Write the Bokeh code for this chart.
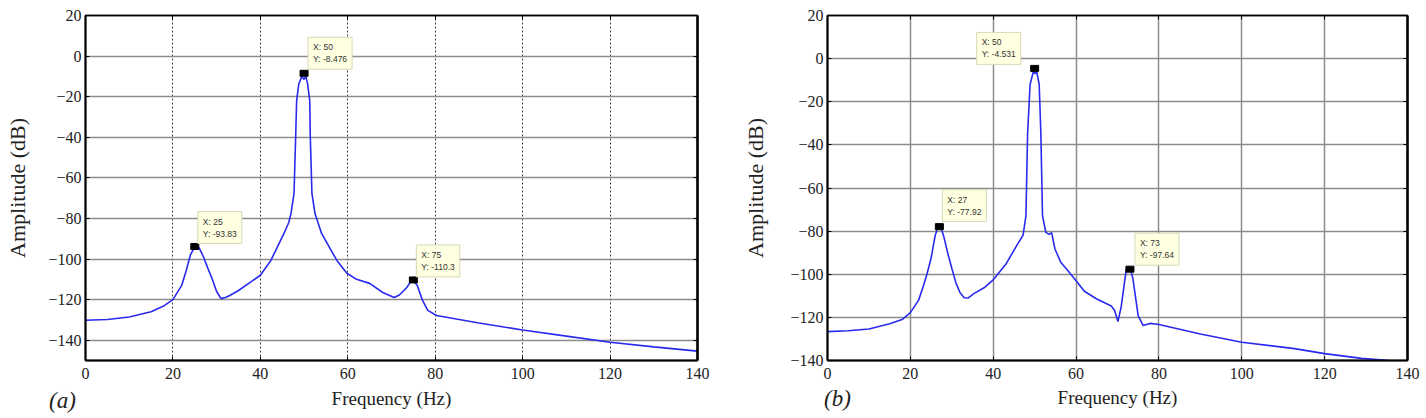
from bokeh.plotting import figure
from bokeh.models import Range1d, LinearAxis, Label, FixedTicker
from bokeh.layouts import row
from bokeh.embed import file_html
from bokeh.resources import INLINE

# ---------------- data (a) ----------------
freq_a = [0, 5, 10, 15, 18, 20, 22, 23, 24, 25, 26, 27, 28, 29, 30, 31, 32, 33, 35, 38, 40,
          42.4, 45.4, 46.5, 47.0, 47.7, 48.1, 48.3, 48.8, 49.5, 50.0, 50.4, 50.8, 51.3, 51.4,
          51.8, 52.5, 54.0, 57.5, 59.8, 62, 65, 68, 70.6, 71.8, 73.5, 74.3, 75, 75.9, 77.1,
          78.3, 80.3, 90, 100, 110, 120, 130, 140]
amp_a = [-130.2, -129.8, -128.6, -126, -123, -120, -113, -106, -98, -94, -94.5, -99, -104.6,
         -110, -116, -119.5, -119, -118, -115.5, -111, -108, -100.7, -87.4, -82, -77.6, -67.7,
         -38, -21.9, -13.6, -10, -11.5, -10, -13.6, -22, -38, -67.7, -77.6, -87.4, -100.7, -107,
         -110, -112, -116.5, -119, -117.7, -114, -111.4, -110.6, -113, -120.4, -125.3, -127.8,
         -131.5, -135, -138, -141, -143.3, -145.4]
tip_x_a = [25, 50, 75]
tip_y_a = [-93.83, -8.476, -110.3]

# ---------------- data (b) ----------------
freq_b = [0, 5, 10, 15, 18, 20, 22, 23, 24, 25, 26, 26.5, 27, 27.5, 28, 29, 30, 31, 32, 33, 34,
          35.3, 38, 40, 43, 45.7, 46.7, 47.2, 47.9, 48.3, 48.9, 49.7, 50.1, 50.5, 51.1, 51.5,
          51.9, 52.7, 53.5, 54.1, 54.9, 56.3, 58.3, 60, 62, 65, 68.5, 69.3, 70.1, 70.9, 72.1,
          73, 73.7, 75, 76.2, 77.8, 80, 90, 100, 112.7, 120, 128.9, 134.1, 140]
amp_b = [-126.6, -126.2, -125.4, -123, -121, -117.8, -112, -106.3, -100, -92.6, -82, -79,
         -78.5, -79, -82, -90, -97.2, -104, -108.6, -110.9, -111, -109, -106, -102.6, -95.5,
         -86.6, -83.5, -82, -72.9, -34.7, -12, -5.9, -7, -5.9, -12, -34.7, -72.9, -80.6, -81.5,
         -80.7, -88.3, -94.4, -99, -103, -107.9, -111.5, -114.7, -116.8, -121.9, -115, -98,
         -96.8, -101.8, -119.3, -123.8, -122.8, -123.3, -127.7, -131.5, -134.5, -136.8, -139,
         -139.8, -141.2]
tip_x_b = [27, 50, 73]
tip_y_b = [-77.92, -4.531, -97.64]

x_ticks = [0, 20, 40, 60, 80, 100, 120, 140]
y_ticks = [-140, -120, -100, -80, -60, -40, -20, 0, 20]
panel_tags = ["(a)", "(b)"]

SERIF = "Liberation Serif"
SANS = "Liberation Sans"
LINE_COLOR = "#2a2aee"


def tip_text(x, y):
    return "X: %g\nY: %s" % (x, ("%.4g" % y))


def make(freq, amp, tx, ty, ymin, width, borders, dashed_x, tip_offsets, tag, tag_tick,
         tag_standoff, tick_standoff, xlabel_standoff, ylabel_standoff):
    bl, br, bt, bb = borders
    p = figure(width=width, height=418, x_range=Range1d(0, 140), y_range=Range1d(ymin, 20),
               output_backend="svg", toolbar_location=None,
               min_border_left=bl, min_border_right=br, min_border_top=bt, min_border_bottom=bb,
               x_axis_label="Frequency (Hz)", y_axis_label="Amplitude (dB)")
    p.outline_line_color = "black"
    p.outline_line_width = 1.5
    p.background_fill_color = "white"

    for ax in (p.xaxis[0], p.yaxis[0]):
        ax.major_tick_in = 4
        ax.major_tick_out = 0
        ax.minor_tick_line_color = None
        ax.axis_line_color = "black"
        ax.axis_line_width = 2
        ax.major_tick_line_color = "black"
        ax.major_label_text_font = SERIF
        ax.major_label_text_font_size = "16px"
        ax.major_label_text_color = "#222222"
        ax.axis_label_text_font = SERIF
        ax.axis_label_text_font_style = "normal"
        ax.axis_label_text_color = "#222222"
    p.xaxis[0].axis_label_text_font_size = "19px"
    p.yaxis[0].axis_label_text_font_size = "22px"
    p.xaxis[0].ticker = FixedTicker(ticks=x_ticks)
    p.yaxis[0].ticker = FixedTicker(ticks=[t for t in y_ticks if t >= ymin])
    p.xaxis[0].major_label_standoff = tick_standoff
    p.yaxis[0].major_label_standoff = 4
    p.xaxis[0].axis_label_standoff = xlabel_standoff
    p.yaxis[0].axis_label_standoff = ylabel_standoff

    top = LinearAxis(ticker=FixedTicker(ticks=x_ticks), major_tick_in=4, major_tick_out=0,
                     minor_tick_line_color=None, major_label_text_font_size="1px",
                     major_label_text_color=None, major_label_standoff=0,
                     axis_line_color="black", axis_line_width=1.5)
    right = LinearAxis(ticker=FixedTicker(ticks=[t for t in y_ticks if t >= ymin]),
                       major_tick_in=4, major_tick_out=0,
                       minor_tick_line_color=None, major_label_text_font_size="1px",
                       major_label_text_color=None, major_label_standoff=0,
                       axis_line_color="black", axis_line_width=2.5)
    p.add_layout(top, "above")
    p.add_layout(right, "right")

    # panel tag "(a)"/"(b)" drawn as the single label of a line-less extra axis
    tag_axis = LinearAxis(ticker=FixedTicker(ticks=[tag_tick]),
                          major_label_overrides={tag_tick: tag},
                          axis_line_color=None, major_tick_line_color=None,
                          minor_tick_line_color=None, major_tick_in=0, major_tick_out=0,
                          major_label_standoff=tag_standoff,
                          major_label_text_font=SERIF, major_label_text_font_size="23px",
                          major_label_text_font_style="italic",
                          major_label_text_color="#222222")
    p.add_layout(tag_axis, "below")

    p.ygrid.grid_line_color = "#8c8c8c"
    p.ygrid.grid_line_width = 1.5
    p.ygrid.ticker = FixedTicker(ticks=[t for t in y_ticks if t >= ymin])
    p.xgrid.ticker = FixedTicker(ticks=x_ticks)
    if dashed_x:
        p.xgrid.grid_line_color = "#404040"
        p.xgrid.grid_line_width = 1
        p.xgrid.grid_line_dash = "2 2"
    else:
        p.xgrid.grid_line_color = "#8c8c8c"
        p.xgrid.grid_line_width = 1.5

    p.line(freq, amp, line_color=LINE_COLOR, line_width=1.6)

    p.rect(tx, ty, width=8, height=6, width_units="screen", height_units="screen",
           fill_color="black", line_color="black")
    for x, y, (xo, yo) in zip(tx, ty, tip_offsets):
        p.add_layout(Label(x=x, y=y, x_offset=xo, y_offset=yo, text=tip_text(x, y),
                           text_font=SANS, text_font_size="8.5px", text_color="#333333",
                           text_align="left", text_baseline="bottom",
                           background_fill_color="#ffffe1", background_fill_alpha=1.0,
                           border_line_color="#d8d8b8", border_line_width=1, padding=5))
    return p


pa = make(freq_a, amp_a, tip_x_a, tip_y_a, -150, 720, (85, 23, 15, 58), True,
          [(3, 3), (4, 4), (3, 3)], panel_tags[0] + "\u00a0" * 8, 0, -24, 7, 6, 15)
pb = make(freq_b, amp_b, tip_x_b, tip_y_b, -140, 706, (107, 19, 13, 55), False,
          [(3, 5), (-58, 4), (5, 4)], panel_tags[1], 2.4, -25, 7, 5, 19)

layout = row(pa, pb)
open("out.html", "w").write(file_html(layout, INLINE))
